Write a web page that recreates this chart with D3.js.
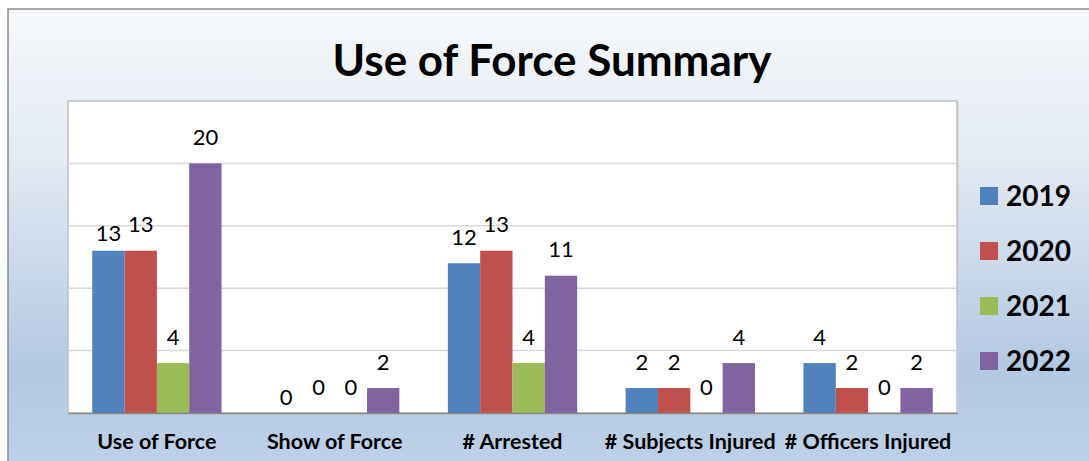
<!DOCTYPE html>
<html>
<head>
<meta charset="utf-8">
<script src="https://cdn.jsdelivr.net/npm/d3@7"></script>
<style>
  body { margin: 0; background: #ffffff; }
  text { font-family: Lato, "Open Sans", sans-serif; fill: #000; }
</style>
</head>
<body>
<div id="my_dataviz"></div>
<script>
// chart values
var categories = ["Use of Force", "Show of Force", "# Arrested", "# Subjects Injured", "# Officers Injured"];
var years = ["2019", "2020", "2021", "2022"];
var values2019 = [13, 0, 12, 2, 4];
var values2020 = [13, 0, 13, 2, 2];
var values2021 = [4, 0, 4, 0, 0];
var values2022 = [20, 2, 11, 4, 2];
var yTicks = [0, 5, 10, 15, 20, 25];

var colors = ["#4f81bd", "#c0504d", "#9bbb59", "#8064a2"];

// excel moved a couple of labels down to avoid overlap
var labelNudge = {"Use of Force|2019": 9, "Show of Force|2019": 10};

var width = 1089, height = 461;
var plot = {left: 68, top: 101, right: 957, bottom: 413};

var series = years.map(function(y, i) {
  return {year: y, color: colors[i], values: [values2019, values2020, values2021, values2022][i]};
});

var svg = d3.select("#my_dataviz")
  .append("svg")
    .attr("width", width)
    .attr("height", height);

// background gradient
var defs = svg.append("defs");
var grad = defs.append("linearGradient")
    .attr("id", "bg")
    .attr("x1", 0).attr("y1", 0).attr("x2", 0).attr("y2", 1);
grad.append("stop").attr("offset", "0%").attr("stop-color", "#f6f8fb");
grad.append("stop").attr("offset", "30%").attr("stop-color", "#e4ebf4");
grad.append("stop").attr("offset", "75%").attr("stop-color", "#b3c8e1");
grad.append("stop").attr("offset", "100%").attr("stop-color", "#c0d3ea");

svg.append("rect")
    .attr("x", 8).attr("y", 9)
    .attr("width", width + 20).attr("height", height + 20)
    .attr("fill", "url(#bg)")
    .attr("stroke", "#8a8a8a")
    .attr("stroke-width", 1.5);

// plot area with a soft shadow
svg.append("rect")
    .attr("x", plot.left + 1.5).attr("y", plot.top + 1.5)
    .attr("width", plot.right - plot.left).attr("height", plot.bottom - plot.top)
    .attr("fill", "#c8ccd2");
svg.append("rect")
    .attr("x", plot.left).attr("y", plot.top)
    .attr("width", plot.right - plot.left).attr("height", plot.bottom - plot.top)
    .attr("fill", "#ffffff")
    .attr("stroke", "#c0c0c0")
    .attr("stroke-width", 1.5);

var x0 = d3.scaleBand()
    .domain(categories)
    .range([plot.left, plot.right])
    .padding(0);

var x1 = d3.scaleBand()
    .domain(years)
    .range([0, x0.bandwidth()])
    .paddingInner(0)
    .paddingOuter(0.75);

var y = d3.scaleLinear()
    .domain([0, 25])
    .range([plot.bottom, plot.top]);

// gridlines
svg.append("g")
  .selectAll("line")
  .data(yTicks.slice(1, -1))
  .enter()
  .append("line")
    .attr("x1", plot.left).attr("x2", plot.right)
    .attr("y1", function(d) { return y(d); })
    .attr("y2", function(d) { return y(d); })
    .attr("stroke", "#d9d9d9")
    .attr("stroke-width", 1.5);

// bars
var groups = svg.append("g")
  .selectAll("g")
  .data(series)
  .enter()
  .append("g")
    .attr("fill", function(d) { return d.color; });

groups.selectAll("rect")
  .data(function(s) { return s.values.map(function(v, i) { return {cat: categories[i], year: s.year, value: v}; }); })
  .enter()
  .append("rect")
    .attr("x", function(d) { return x0(d.cat) + x1(d.year); })
    .attr("y", function(d) { return y(d.value); })
    .attr("width", x1.bandwidth())
    .attr("height", function(d) { return y(0) - y(d.value); });

// value labels
groups.selectAll("text")
  .data(function(s) { return s.values.map(function(v, i) { return {cat: categories[i], year: s.year, value: v}; }); })
  .enter()
  .append("text")
    .attr("x", function(d) { return x0(d.cat) + x1(d.year) + x1.bandwidth() / 2; })
    .attr("y", function(d) { return y(d.value) - 18.5 + (labelNudge[d.cat + "|" + d.year] || 0); })
    .attr("text-anchor", "middle")
    .style("font-size", "22px")
    .style("fill", "#000")
    .text(function(d) { return d.value; });

// baseline axis
svg.append("g")
  .attr("transform", "translate(0," + plot.bottom + ")")
  .call(d3.axisBottom(x0).tickSize(0).tickPadding(21))
  .call(function(g) { g.select(".domain").attr("stroke", "#868686").attr("stroke-width", 1.5); })
  .call(function(g) {
    g.selectAll("text")
      .attr("font-family", "Lato, sans-serif")
      .style("font-size", "21.5px")
      .style("font-weight", "bold")
      .attr("fill", "#000");
  });

// title
svg.append("text")
    .attr("x", 552)
    .attr("y", 76)
    .attr("text-anchor", "middle")
    .style("font-size", "44px")
    .style("font-weight", "bold")
    .text("Use of Force Summary");

// legend
var legend = svg.append("g")
  .selectAll("g")
  .data(series)
  .enter()
  .append("g")
    .attr("transform", function(d, i) { return "translate(980," + (196 + i * 55) + ")"; });

legend.append("rect")
    .attr("x", 0).attr("y", -9)
    .attr("width", 18).attr("height", 18)
    .attr("fill", function(d) { return d.color; });

legend.append("text")
    .attr("x", 26)
    .attr("y", 10)
    .style("font-size", "28px")
    .style("font-weight", "bold")
    .text(function(d) { return d.year; });
</script>
</body>
</html>
